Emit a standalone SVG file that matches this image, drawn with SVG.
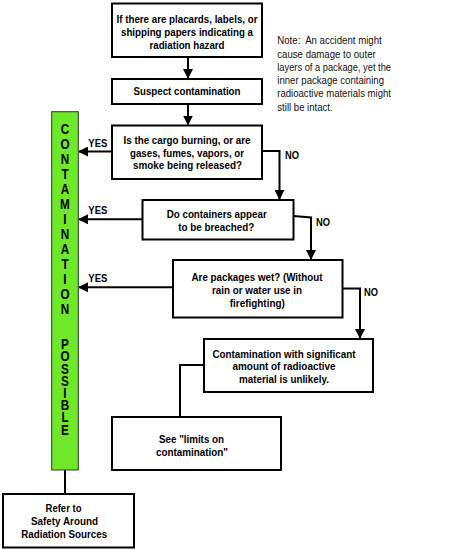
<svg xmlns="http://www.w3.org/2000/svg" width="450" height="550" viewBox="0 0 450 550">
<style>
.box{fill:#fff;stroke:#000;stroke-width:2}
.t{font-family:"Liberation Sans",Arial,sans-serif;font-weight:bold;font-size:11px;fill:#000;text-anchor:middle}
.lbl{font-family:"Liberation Sans",Arial,sans-serif;font-weight:bold;font-size:11px;fill:#000}
.note{font-family:"Liberation Sans",Arial,sans-serif;font-size:11px;fill:#111}
.c{fill:none;stroke:#000;stroke-width:2}
.bar{fill:#6FE82A;stroke:#333;stroke-width:1}
.v{font-family:"Liberation Sans",Arial,sans-serif;font-weight:bold;font-size:15px;fill:#000;writing-mode:vertical-rl;text-orientation:upright}
</style>
<defs>
<marker id="ah" markerUnits="userSpaceOnUse" markerWidth="10" markerHeight="10" refX="9" refY="5" orient="auto">
<path d="M0,0 L10,5 L0,10 z" fill="#000"/>
</marker>
</defs>
<rect width="450" height="550" fill="#fff"/>

<g id="connectors">
<line class="c" x1="188" y1="57" x2="188" y2="78" marker-end="url(#ah)"/>
<line class="c" x1="188" y1="104" x2="188" y2="124.5" marker-end="url(#ah)"/>
<line class="c" x1="112" y1="151.5" x2="79" y2="151.5" marker-end="url(#ah)"/>
<polyline class="c" points="262,151 279.5,151 279.5,199" marker-end="url(#ah)"/>
<line class="c" x1="142.5" y1="219.3" x2="79" y2="219.3" marker-end="url(#ah)"/>
<polyline class="c" points="293.5,216 311,217.5 311,259" marker-end="url(#ah)"/>
<line class="c" x1="173" y1="287.3" x2="79" y2="287.3" marker-end="url(#ah)"/>
<polyline class="c" points="342.5,288.5 360,288.5 360,338" marker-end="url(#ah)"/>
<polyline class="c" points="204,365 180,365 180,417"/>
<line class="c" x1="65" y1="470" x2="65" y2="494"/>
<text class="lbl" x="88.3" y="146.5" textLength="19" lengthAdjust="spacingAndGlyphs">YES</text>
<text class="lbl" x="88.3" y="214" textLength="19" lengthAdjust="spacingAndGlyphs">YES</text>
<text class="lbl" x="88.3" y="281.7" textLength="19" lengthAdjust="spacingAndGlyphs">YES</text>
<text class="lbl" x="285" y="159" textLength="14" lengthAdjust="spacingAndGlyphs">NO</text>
<text class="lbl" x="316" y="226" textLength="14" lengthAdjust="spacingAndGlyphs">NO</text>
<text class="lbl" x="364" y="296" textLength="14" lengthAdjust="spacingAndGlyphs">NO</text>
</g>

<g id="n1">
<rect class="box" x="112" y="3.5" width="150" height="53.5"/>
<text class="t" x="187" y="23" textLength="141" lengthAdjust="spacingAndGlyphs">If there are placards, labels, or</text>
<text class="t" x="187" y="36" textLength="132" lengthAdjust="spacingAndGlyphs">shipping papers indicating a</text>
<text class="t" x="187" y="48.5" textLength="75" lengthAdjust="spacingAndGlyphs">radiation hazard</text>
</g>

<g id="n2">
<rect class="box" x="112" y="79" width="150" height="25"/>
<text class="t" x="187" y="95" textLength="107" lengthAdjust="spacingAndGlyphs">Suspect contamination</text>
</g>

<g id="n3">
<rect class="box" x="112" y="125.5" width="150" height="53.5"/>
<text class="t" x="187" y="144" textLength="127" lengthAdjust="spacingAndGlyphs">Is the cargo burning, or are</text>
<text class="t" x="187" y="156.7" textLength="114" lengthAdjust="spacingAndGlyphs">gases, fumes, vapors, or</text>
<text class="t" x="187.5" y="169.3" textLength="109" lengthAdjust="spacingAndGlyphs">smoke being released?</text>
</g>

<g id="n4">
<rect class="box" x="142.5" y="200" width="151" height="39.5"/>
<text class="t" x="216.7" y="218.3" textLength="100" lengthAdjust="spacingAndGlyphs">Do containers appear</text>
<text class="t" x="216.2" y="230.5" textLength="76" lengthAdjust="spacingAndGlyphs">to be breached?</text>
</g>

<g id="n5">
<rect class="box" x="173" y="260" width="169.5" height="57.5"/>
<text class="t" x="257" y="281" textLength="131" lengthAdjust="spacingAndGlyphs">Are packages wet? (Without</text>
<text class="t" x="257" y="294" textLength="90" lengthAdjust="spacingAndGlyphs">rain or water use in</text>
<text class="t" x="257.3" y="306.5" textLength="55" lengthAdjust="spacingAndGlyphs">firefighting)</text>
</g>

<g id="n6">
<rect class="box" x="204" y="339" width="169" height="53"/>
<text class="t" x="284" y="357.7" textLength="143" lengthAdjust="spacingAndGlyphs">Contamination with significant</text>
<text class="t" x="284" y="370" textLength="103" lengthAdjust="spacingAndGlyphs">amount of radioactive</text>
<text class="t" x="284" y="383.3" textLength="90" lengthAdjust="spacingAndGlyphs">material is unlikely.</text>
</g>

<g id="n7">
<rect class="box" x="112" y="417" width="169" height="53"/>
<text class="t" x="191.5" y="443.3" textLength="65" lengthAdjust="spacingAndGlyphs">See "limits on</text>
<text class="t" x="192" y="456" textLength="72" lengthAdjust="spacingAndGlyphs">contamination"</text>
</g>

<g id="n8">
<rect class="box" x="3" y="494" width="131" height="53.5"/>
<text class="t" x="63.5" y="511.7" textLength="36" lengthAdjust="spacingAndGlyphs">Refer to</text>
<text class="t" x="64.5" y="524.5" textLength="67" lengthAdjust="spacingAndGlyphs">Safety Around</text>
<text class="t" x="64.2" y="538" textLength="86" lengthAdjust="spacingAndGlyphs">Radiation Sources</text>
</g>

<g id="bar">
<rect class="bar" x="51.7" y="111.7" width="26.6" height="358.3"/>
<g transform="translate(65,0) scale(0.78,1) translate(-65,0)">
<text class="v" x="65" y="120.7" style="letter-spacing:-1.7px">CONTAMINATION</text>
<text class="v" x="65" y="335.7" style="letter-spacing:-4.5px">POSSIBLE</text>
</g>
</g>

<g id="note">
<text class="note" x="277.3" y="44.3" textLength="104.4" lengthAdjust="spacingAndGlyphs" xml:space="preserve">Note:  An accident might</text>
<text class="note" x="277.3" y="57.5" textLength="98.4" lengthAdjust="spacingAndGlyphs">cause damage to outer</text>
<text class="note" x="277.3" y="70.7" textLength="113.7" lengthAdjust="spacingAndGlyphs">layers of a package, yet the</text>
<text class="note" x="277.3" y="84" textLength="106.7" lengthAdjust="spacingAndGlyphs">inner package containing</text>
<text class="note" x="277.3" y="97.3" textLength="113.7" lengthAdjust="spacingAndGlyphs">radioactive materials might</text>
<text class="note" x="277.3" y="110.7" textLength="55.4" lengthAdjust="spacingAndGlyphs">still be intact.</text>
</g>
</svg>
